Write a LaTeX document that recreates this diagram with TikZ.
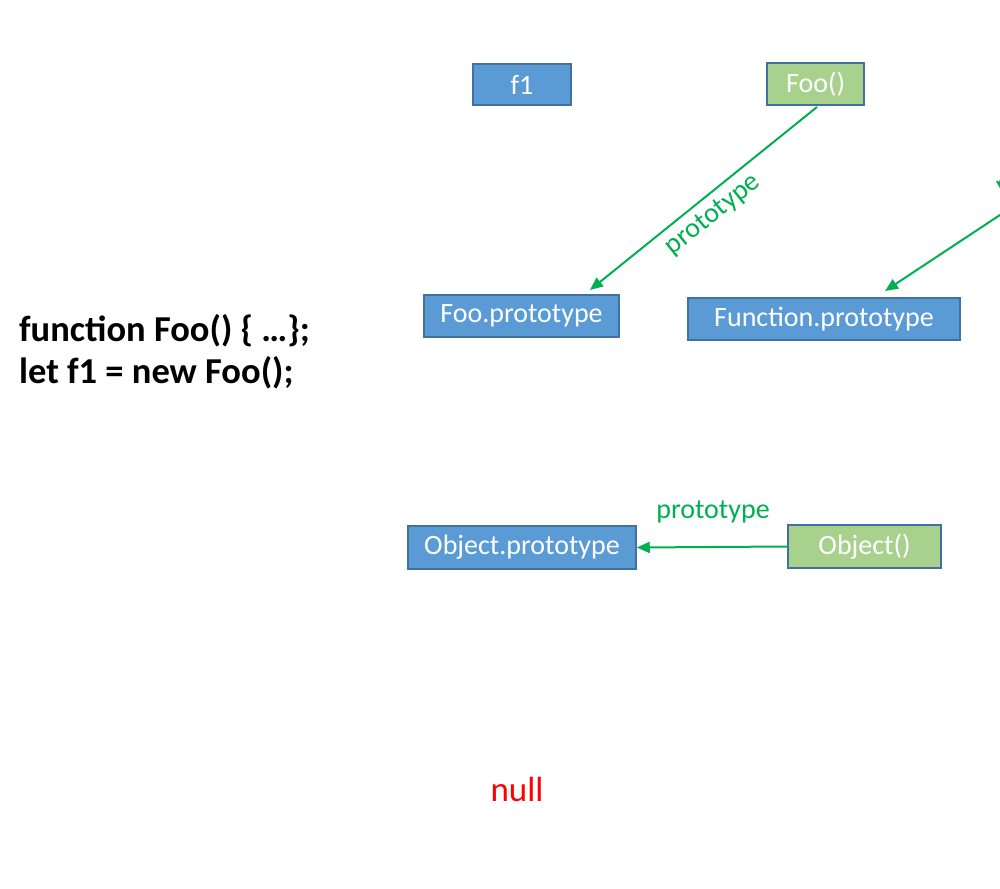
\documentclass[tikz,border=0pt]{standalone}
\usepackage{fontspec}
\setmainfont{Carlito}
\usetikzlibrary{arrows.meta}
\definecolor{boxblue}{HTML}{5B9BD5}
\definecolor{boxgreen}{HTML}{A9D18E}
\definecolor{boxedge}{HTML}{41719C}
\definecolor{arrgreen}{HTML}{00B050}
\definecolor{nullred}{HTML}{FF0000}
\tikzset{
  objbox/.style={draw=boxedge, line width=1.5pt, fill=boxblue, text=white, inner sep=0pt, font=\fontsize{28}{30}\selectfont},
  fnbox/.style={draw=boxedge, line width=1.5pt, fill=boxgreen, text=white, inner sep=0pt, font=\fontsize{28}{30}\selectfont},
  protoarrow/.style={draw=arrgreen, line width=2pt, -{Triangle[length=13pt,width=11pt]}},
  protolabel/.style={text=arrgreen, font=\fontsize{28}{30}\selectfont, inner sep=0pt}
}
\begin{document}
\begin{tikzpicture}[x=1pt,y=-1pt]
\useasboundingbox (0,0) rectangle (1000,888);
\node[objbox, minimum width=98pt, minimum height=41pt] (f1) at (522,84.5) {f1};
\node[fnbox, minimum width=97pt, minimum height=42pt] (foo) at (815.5,84) {Foo()};
\node[objbox, minimum width=195pt, minimum height=42pt] (fooproto) at (521.5,316) {Foo.prototype};
\node[objbox, minimum width=272pt, minimum height=42pt] (funcproto) at (824,319) {Function.prototype};
\node[objbox, minimum width=228pt, minimum height=43pt] (objproto) at (522,547.5) {Object.prototype};
\node[fnbox, minimum width=153pt, minimum height=43pt] (obj) at (864.5,546.5) {Object()};
\node[text=nullred, font=\fontsize{35}{38}\selectfont, inner sep=0pt] (null) at (517,789) {null};
\node[anchor=west, align=left, font=\bfseries\fontsize{36.5}{42}\selectfont, inner sep=0pt] (code) at (19,352) {function Foo() \{ …\};\\let f1 = new Foo();};
\coordinate (offright) at (1003,213);
\draw[protoarrow] (817,107) -- (590,290);
\node[protolabel, rotate=38.7] (lab1) at (713,215) {prototype};
\draw[protoarrow] (offright) -- (885,291);
\node[protolabel, rotate=30] (lab2) at (1047,160) {prototype};
\draw[protoarrow] (obj.west) -- (objproto.east);
\node[protolabel] (lab3) at (713,512) {prototype};
\end{tikzpicture}
\end{document}
